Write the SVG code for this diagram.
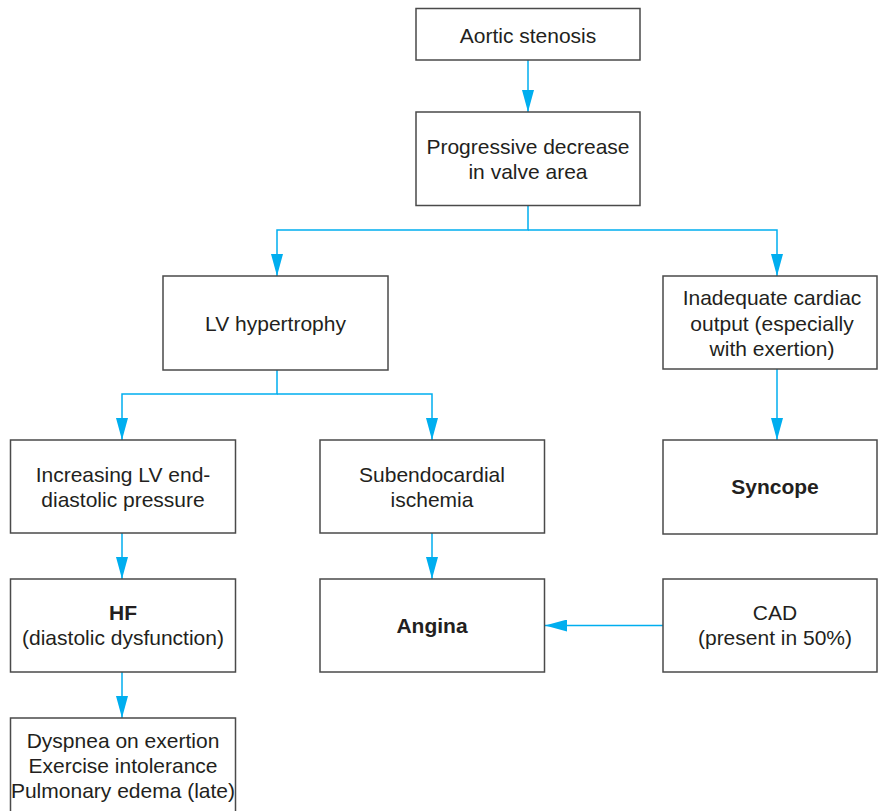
<svg xmlns="http://www.w3.org/2000/svg" width="878" height="811" viewBox="0 0 878 811">
<style>
.box{fill:#fff;stroke:#4a4a4a;stroke-width:1.5}
text{font-family:"Liberation Sans",Arial,sans-serif;font-size:21px;fill:#231f20;text-anchor:middle}
.b{font-weight:bold}
.c{fill:none;stroke:#00aeef;stroke-width:1.5}
</style>
<defs>
<marker id="ah" markerWidth="22" markerHeight="12" refX="22" refY="6" orient="auto" markerUnits="userSpaceOnUse" viewBox="0 0 22 12">
<path d="M0,0 L22,6 L0,12 Z" fill="#00aeef"/>
</marker>
</defs>
<rect width="878" height="811" fill="#fff"/>
<g id="connectors">
<path class="c" d="M528,60 V112" marker-end="url(#ah)"/>
<path class="c" d="M528,205 V230 H277 V276" marker-end="url(#ah)"/>
<path class="c" d="M528,230 H777 V276" marker-end="url(#ah)"/>
<path class="c" d="M277,370 V394 H122 V440" marker-end="url(#ah)"/>
<path class="c" d="M277,394 H432 V440" marker-end="url(#ah)"/>
<path class="c" d="M777,369 V440" marker-end="url(#ah)"/>
<path class="c" d="M122,533 V579" marker-end="url(#ah)"/>
<path class="c" d="M432,533 V579" marker-end="url(#ah)"/>
<path class="c" d="M122,672 V718" marker-end="url(#ah)"/>
<path class="c" d="M663,625.5 H545" marker-end="url(#ah)"/>
</g>
<g id="aortic"><rect class="box" x="416" y="8.5" width="224" height="51.5"/><text x="528" y="43">Aortic stenosis</text></g>
<g id="progressive"><rect class="box" x="416" y="112" width="224" height="93.5"/><text x="528" y="154">Progressive decrease</text><text x="528" y="179">in valve area</text></g>
<g id="lvh"><rect class="box" x="163" y="276" width="225" height="94"/><text x="275.5" y="331">LV hypertrophy</text></g>
<g id="inadequate"><rect class="box" x="663" y="276" width="214" height="93"/><text x="772" y="305">Inadequate cardiac</text><text x="772" y="331">output (especially</text><text x="772" y="356">with exertion)</text></g>
<g id="increasing"><rect class="box" x="10.5" y="440" width="225" height="93"/><text x="123" y="482">Increasing LV end-</text><text x="123" y="507">diastolic pressure</text></g>
<g id="subendo"><rect class="box" x="320" y="440" width="224.5" height="93"/><text x="432" y="482">Subendocardial</text><text x="432" y="507">ischemia</text></g>
<g id="syncope"><rect class="box" x="663" y="440" width="214" height="94"/><text class="b" x="775" y="494">Syncope</text></g>
<g id="hf"><rect class="box" x="10.5" y="579" width="225" height="93"/><text class="b" x="123" y="620">HF</text><text x="123" y="645">(diastolic dysfunction)</text></g>
<g id="angina"><rect class="box" x="320" y="579" width="224.5" height="93"/><text class="b" x="432" y="633">Angina</text></g>
<g id="cad"><rect class="box" x="663" y="579" width="214" height="93"/><text x="775" y="620">CAD</text><text x="775" y="645">(present in 50%)</text></g>
<g id="dyspnea"><rect class="box" x="10.5" y="718" width="225" height="100"/><text x="123" y="748">Dyspnea on exertion</text><text x="123" y="773">Exercise intolerance</text><text x="123" y="798">Pulmonary edema (late)</text></g>
</svg>
